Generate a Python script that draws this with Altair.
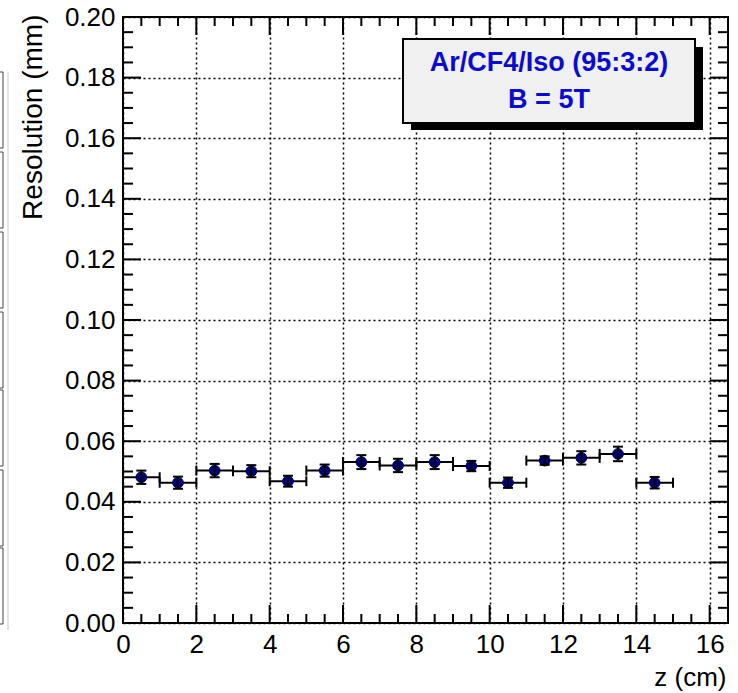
import altair as alt
import pandas as pd

# ---- data ----
z_centers = [0.5, 1.5, 2.5, 3.5, 4.5, 5.5, 6.5, 7.5, 8.5, 9.5, 10.5, 11.5, 12.5, 13.5, 14.5]
resolution = [0.0481, 0.0463, 0.0503, 0.0501, 0.0468, 0.0503, 0.0531, 0.0520,
              0.0531, 0.0518, 0.0463, 0.0536, 0.0545, 0.0558, 0.0463]
res_err = [0.0022, 0.0020, 0.0022, 0.0020, 0.0018, 0.0020, 0.0023, 0.0022,
           0.0023, 0.0017, 0.0017, 0.0014, 0.0022, 0.0024, 0.0019]
z_halfwidth = [0.5] * 15

x_major = [0, 2, 4, 6, 8, 10, 12, 14, 16]
x_minor = [0.5, 1, 1.5, 2.5, 3, 3.5, 4.5, 5, 5.5, 6.5, 7, 7.5, 8.5, 9, 9.5,
           10.5, 11, 11.5, 12.5, 13, 13.5, 14.5, 15, 15.5]
y_major = [0.0, 0.02, 0.04, 0.06, 0.08, 0.10, 0.12, 0.14, 0.16, 0.18, 0.20]
y_minor = [round(0.005 * i, 3) for i in range(1, 40) if i % 4 != 0]

legend_lines = ["Ar/CF4/Iso (95:3:2)", "B = 5T"]

W, H = 605, 606
FONT = "Liberation Sans"

df = pd.DataFrame({
    "z": z_centers,
    "res": resolution,
    "lo": [r - e for r, e in zip(resolution, res_err)],
    "hi": [r + e for r, e in zip(resolution, res_err)],
    "zlo": [c - h for c, h in zip(z_centers, z_halfwidth)],
    "zhi": [c + h for c, h in zip(z_centers, z_halfwidth)],
})

xs = alt.Scale(domain=[0, 16.5], nice=False, zero=False)
ys = alt.Scale(domain=[0, 0.2], nice=False, zero=False)

x_axis = alt.Axis(values=x_major, format="d", labelFontSize=26, labelFont=FONT,
                  labelColor="black", tickSize=0, domain=False, grid=True,
                  gridColor="black", gridDash=[2, 3], gridWidth=1.5,
                  labelPadding=8, labelFlush=False,
                  title="z (cm)", titleFont=FONT, titleFontSize=26,
                  titleFontWeight="normal", titleColor="black",
                  titleAnchor="end", titleAlign="right", titleX=603, titleY=62,
                  titleBaseline="alphabetic")
y_axis = alt.Axis(values=y_major, format=".2f", labelFontSize=26, labelFont=FONT,
                  labelColor="black", tickSize=0, domain=False, grid=True,
                  gridColor="black", gridDash=[2, 3], gridWidth=1.5,
                  labelPadding=8, labelFlush=False,
                  title="Resolution (mm)", titleFont=FONT, titleFontSize=28,
                  titleFontWeight="normal", titleColor="black",
                  titleAnchor="end", titleAngle=-90, titleAlign="right",
                  titleX=-82, titleY=-3, titleBaseline="alphabetic")


def X(field, **kw):
    return alt.X(field, scale=xs, axis=x_axis, **kw)


def Y(field, **kw):
    return alt.Y(field, scale=ys, axis=y_axis, **kw)


# frame base layer (provides axes/grid)
base = alt.Chart(df).mark_point(opacity=0).encode(x=X("z:Q"), y=Y("res:Q"))


def xt(vals, length, top):
    d = pd.DataFrame({"z": vals})
    if top:
        enc = dict(y=alt.value(0), y2=alt.value(length))
    else:
        enc = dict(y=alt.value(H), y2=alt.value(H - length))
    return alt.Chart(d).mark_rule(color="black", strokeWidth=2).encode(x=X("z:Q"), **enc)


def yt(vals, length, right):
    d = pd.DataFrame({"res": vals})
    if right:
        enc = dict(x=alt.value(W), x2=alt.value(W - length))
    else:
        enc = dict(x=alt.value(0), x2=alt.value(length))
    return alt.Chart(d).mark_rule(color="black", strokeWidth=2).encode(y=Y("res:Q"), **enc)


ticks = [
    xt(x_major, 18, False), xt(x_major, 18, True),
    xt(x_minor, 9, False), xt(x_minor, 9, True),
    yt(y_major, 18, False), yt(y_major, 18, True),
    yt(y_minor, 10, False), yt(y_minor, 10, True),
]

pts = alt.Chart(df)
markers = pts.mark_circle(size=115, color="#00007a", opacity=1,
                          stroke="#000050", strokeWidth=1).encode(x=X("z:Q"), y=Y("res:Q"))
vbar = pts.mark_rule(color="black", strokeWidth=2).encode(x=X("z:Q"), y=Y("lo:Q"), y2="hi:Q")
hbar = pts.mark_rule(color="black", strokeWidth=2).encode(x=X("zlo:Q"), x2="zhi:Q", y=Y("res:Q"))
cap_lo = pts.mark_tick(orient="horizontal", size=10, thickness=2, color="black",
                       opacity=1).encode(x=X("z:Q"), y=Y("lo:Q"))
cap_hi = pts.mark_tick(orient="horizontal", size=10, thickness=2, color="black",
                       opacity=1).encode(x=X("z:Q"), y=Y("hi:Q"))
cap_l = pts.mark_tick(orient="vertical", size=10, thickness=2, color="black",
                      opacity=1).encode(x=X("zlo:Q"), y=Y("res:Q"))
cap_r = pts.mark_tick(orient="vertical", size=10, thickness=2, color="black",
                      opacity=1).encode(x=X("zhi:Q"), y=Y("res:Q"))

one = pd.DataFrame({"a": [0]})
shadow = alt.Chart(one).mark_rect(color="black").encode(
    x=alt.value(288), x2=alt.value(580), y=alt.value(30), y2=alt.value(113))
box = alt.Chart(one).mark_rect(fill="#f0f0f0", stroke="black", strokeWidth=2).encode(
    x=alt.value(280), x2=alt.value(572), y=alt.value(22), y2=alt.value(106))
leg_df = pd.DataFrame({"t": legend_lines, "yy": [46, 83]})
leg_text = alt.Chart(leg_df).mark_text(font=FONT, fontSize=27, fontWeight="bold",
                                       color="#0b0bd0", align="center",
                                       baseline="middle").encode(
    x=alt.value(426), y=alt.Y("yy:Q", scale=None), text="t:N")

# neighbouring-figure sliver at the left edge
sliver_tops = [55, 135, 215, 295, 373, 453, 531]
sliver_df = pd.DataFrame({"t": sliver_tops, "b": [t + 76 for t in sliver_tops]})
sliver = alt.Chart(sliver_df).mark_rect(fill="white", stroke="#444", strokeWidth=1).encode(
    x=alt.value(-140), x2=alt.value(-120),
    y=alt.Y("t:Q", scale=None), y2="b:Q")
sliver_line = alt.Chart(one).mark_rule(color="#cccccc", strokeWidth=1).encode(
    x=alt.value(-115), y=alt.value(55), y2=alt.value(613))

chart = alt.layer(
    base, *ticks, hbar, markers, vbar, cap_lo, cap_hi, cap_l, cap_r,
    shadow, box, leg_text, sliver, sliver_line
).properties(
    width=W, height=H,
    autosize=alt.AutoSizeParams(type="none"),
    padding={"left": 123, "top": 17, "right": 10, "bottom": 70},
    background="white",
).configure_view(stroke="black", strokeWidth=2)

chart.save("out.html", embed_options={"renderer": "svg", "actions": False})
